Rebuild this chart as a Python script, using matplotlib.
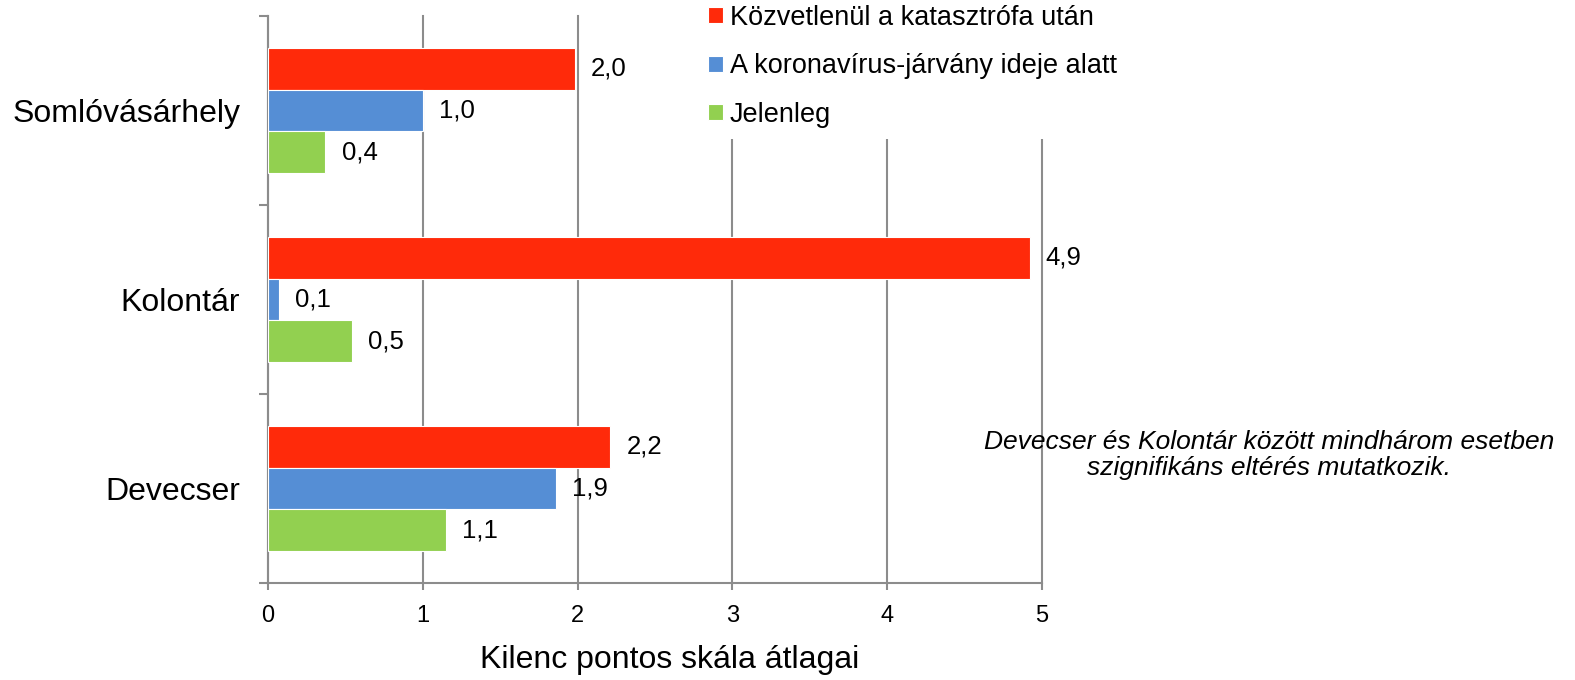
import numpy as np
import matplotlib.pyplot as plt

plt.rcParams['font.family'] = ['Liberation Sans', 'DejaVu Sans']

# adatok
telepulesek = ['Somlóvásárhely', 'Kolontár', 'Devecser']
sorozatok = ['Közvetlenül a katasztrófa után',
             'A koronavírus-járvány ideje alatt',
             'Jelenleg']
kozvetlenul = [1.98, 4.92, 2.21]
korona = [1.00, 0.07, 1.86]
jelenleg = [0.37, 0.54, 1.15]
cimkek = [['2,0', '4,9', '2,2'],
          ['1,0', '0,1', '1,9'],
          ['0,4', '0,5', '1,1']]
szinek = ['#ff2a0a', '#558ed5', '#92d050']
megjegyzes = 'Devecser és Kolontár között mindhárom esetben\nszignifikáns eltérés mutatkozik.'

W, H = 1575, 680
fig = plt.figure(figsize=(W / 100, H / 100), dpi=100)
ax = fig.add_axes([268 / W, 1 - 583 / H, (1042 - 268) / W, (583 - 16) / H])

y = np.arange(len(telepulesek))
h = 0.22
for k, (vals, lab) in enumerate(zip([kozvetlenul, korona, jelenleg], cimkek)):
    pos = y + (k - 1) * h
    ax.barh(pos, vals, height=h, color=szinek[k], edgecolor='white',
            linewidth=0.8, label=sorozatok[k], zorder=3)
    for p, v, t in zip(pos, vals, lab):
        ax.text(v + 0.105, p, t, va='center', ha='left', fontsize=18.5, zorder=4)

ax.set_xlim(0, 5)
ax.set_ylim(2.5, -0.5)
ax.set_xticks(range(6))
ax.tick_params(axis='x', labelsize=17, length=5, width=1.5, color='#8c8c8c', pad=11)
ax.xaxis.grid(True, color='#8c8c8c', linewidth=1.5, zorder=0)
ax.set_axisbelow(True)
for gl in ax.get_xgridlines():
    gl.set_clip_on(False)

ax.set_yticks(y)
ax.set_yticklabels(telepulesek, fontsize=23)
ax.tick_params(axis='y', length=0, pad=20)
ax.set_yticks(np.arange(-0.5, 3, 1), minor=True)
ax.tick_params(axis='y', which='minor', length=6.5, width=1.5, color='#8c8c8c')

for s in ['top', 'right']:
    ax.spines[s].set_visible(False)
for s in ['left', 'bottom']:
    ax.spines[s].set_color('#8c8c8c')
    ax.spines[s].set_linewidth(1.5)

fig.text(670 / W, 1 - 660 / H, 'Kilenc pontos skála átlagai', fontsize=23,
         ha='center', va='center')

leg = ax.legend(loc='upper left', bbox_to_anchor=(697 / W, 1 + 6 / H),
                bbox_transform=fig.transFigure, fontsize=19.5, frameon=True,
                facecolor='white', edgecolor='none', framealpha=1,
                handlelength=0.55, handleheight=0.55, handletextpad=0.25,
                labelspacing=0.83, borderpad=0.4, borderaxespad=0, fancybox=False)
leg.set_zorder(5)

fig.text(1269 / W, 1 - 455 / H, megjegyzes, ha='center', va='center',
         fontsize=19, style='italic', linespacing=1.1)

fig.savefig('out.png', dpi=100)
